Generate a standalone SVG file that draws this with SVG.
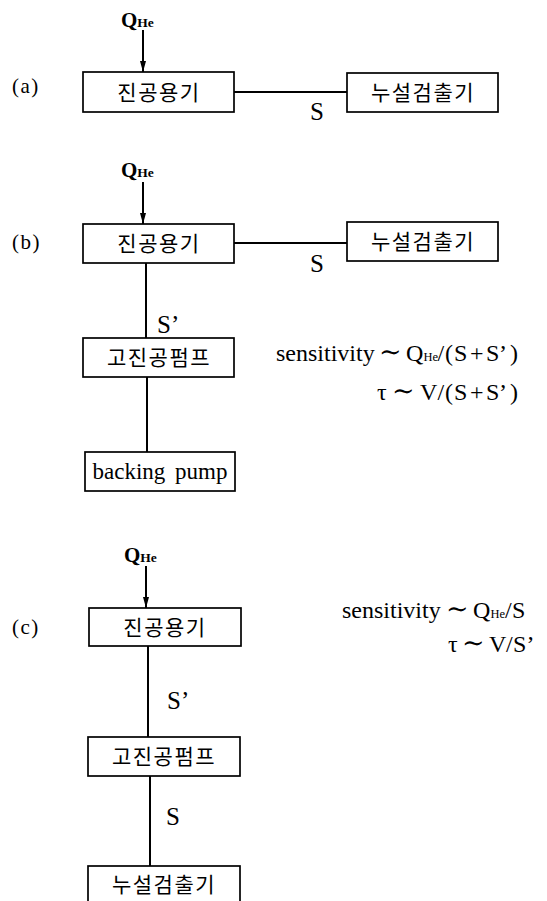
<svg xmlns="http://www.w3.org/2000/svg" width="547" height="901" viewBox="0 0 547 901">
<defs>
<marker id="arr" viewBox="0 0 11 7" refX="11" refY="3.5" markerWidth="11" markerHeight="7" markerUnits="userSpaceOnUse" orient="auto">
<path d="M0,0.5 L11,3.5 L0,6.5 Z" fill="#000"/>
</marker>
<style>
.box{fill:#fff;stroke:#000;stroke-width:1.7}
.kr{font-family:"Noto Sans CJK KR","Noto Sans",sans-serif;font-size:21px;letter-spacing:1.5px;text-anchor:middle;fill:#000}
.en{font-family:"Liberation Serif","DejaVu Serif",serif;fill:#000}
.q{font-family:"Liberation Serif","DejaVu Serif",serif;font-weight:bold;font-size:21px;fill:#000}
.lab{font-family:"Liberation Serif","DejaVu Serif",serif;font-size:21px;letter-spacing:1.5px;fill:#000}
.s{font-family:"Liberation Serif","DejaVu Serif",serif;font-size:25px;fill:#000}
.f{font-family:"Liberation Serif","DejaVu Serif",serif;font-size:24px;fill:#000}
.t{font-family:"DejaVu Serif",serif;font-size:27px}
.sub{font-size:13.5px}
.fsub{font-size:12.5px}
.ln{stroke:#000;stroke-width:2;fill:none}
</style>
</defs>

<g id="connectors">
<line class="ln" x1="143" y1="30" x2="143" y2="72" marker-end="url(#arr)"/>
<line class="ln" x1="234" y1="92" x2="347" y2="92"/>
<line class="ln" x1="143" y1="182" x2="143" y2="224" marker-end="url(#arr)"/>
<line class="ln" x1="234" y1="243" x2="347" y2="243"/>
<line class="ln" x1="146" y1="263" x2="146" y2="338"/>
<line class="ln" x1="147" y1="377" x2="147" y2="452"/>
<line class="ln" x1="146" y1="566" x2="146" y2="608" marker-end="url(#arr)"/>
<line class="ln" x1="148" y1="646" x2="148" y2="737"/>
<line class="ln" x1="150" y1="776" x2="150" y2="866"/>
</g>

<g id="labels">
<text class="q" x="121" y="27">Q<tspan class="sub">He</tspan></text>
<text class="lab" x="12" y="93">(a)</text>
<text class="s" x="310" y="120">S</text>
<text class="q" x="121" y="177">Q<tspan class="sub">He</tspan></text>
<text class="lab" x="12" y="249">(b)</text>
<text class="s" x="310" y="272">S</text>
<text class="s" x="157" y="333">S’</text>
<text class="f" y="361"><tspan x="276">sensitivity</tspan><tspan x="379" class="t">∼</tspan><tspan x="406">Q</tspan><tspan x="423.5" class="fsub">He</tspan><tspan x="437.5">/</tspan><tspan x="445">(</tspan><tspan x="454">S</tspan><tspan x="470">+</tspan><tspan x="486">S</tspan><tspan x="499">’</tspan><tspan x="510">)</tspan></text>
<text class="f" y="400"><tspan x="377">τ</tspan><tspan x="392" class="t">∼</tspan><tspan x="420">V</tspan><tspan x="437.5">/</tspan><tspan x="445">(</tspan><tspan x="454">S</tspan><tspan x="470">+</tspan><tspan x="486">S</tspan><tspan x="499">’</tspan><tspan x="510">)</tspan></text>
<text class="q" x="124" y="562">Q<tspan class="sub">He</tspan></text>
<text class="lab" x="12" y="634">(c)</text>
<text class="f" y="618"><tspan x="342">sensitivity</tspan><tspan x="446" class="t">∼</tspan><tspan x="473">Q</tspan><tspan x="490.5" class="fsub">He</tspan><tspan x="505">/</tspan><tspan x="512">S</tspan></text>
<text class="f" y="652"><tspan x="448">τ</tspan><tspan x="462" class="t">∼</tspan><tspan x="489">V</tspan><tspan x="506">/</tspan><tspan x="513">S</tspan><tspan x="526.5">’</tspan></text>
<text class="s" x="167" y="709">S’</text>
<text class="s" x="166" y="825">S</text>
</g>

<g id="a-vessel"><rect class="box" x="83" y="72" width="151" height="40"/><text class="kr" x="159" y="100">진공용기</text></g>
<g id="a-detector"><rect class="box" x="347" y="73" width="151" height="39"/><text class="kr" x="423" y="100">누설검출기</text></g>

<g id="b-vessel"><rect class="box" x="83" y="224" width="151" height="39"/><text class="kr" x="159" y="251">진공용기</text></g>
<g id="b-detector"><rect class="box" x="347" y="222" width="151" height="39"/><text class="kr" x="423" y="249">누설검출기</text></g>
<g id="b-hvpump"><rect class="box" x="83" y="338" width="151" height="39"/><text class="kr" x="159" y="365">고진공펌프</text></g>
<g id="b-backing"><rect class="box" x="85" y="452" width="150" height="39"/><text class="en" x="160" y="479" font-size="23" text-anchor="middle" word-spacing="4">backing pump</text></g>

<g id="c-vessel"><rect class="box" x="89" y="608" width="152" height="38"/><text class="kr" x="165" y="635">진공용기</text></g>
<g id="c-hvpump"><rect class="box" x="88" y="737" width="152" height="39"/><text class="kr" x="164" y="764">고진공펌프</text></g>
<g id="c-detector"><rect class="box" x="88" y="866" width="152" height="44"/><text class="kr" x="164" y="892">누설검출기</text></g>
</svg>
